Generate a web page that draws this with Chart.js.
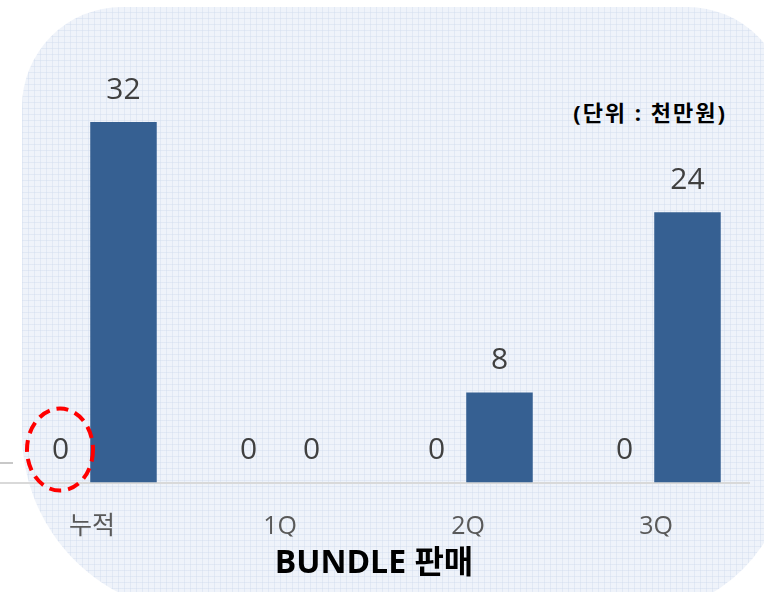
<!DOCTYPE html>
<html>
<head>
<meta charset="utf-8">
<script src="https://cdn.jsdelivr.net/npm/chart.js@4"></script>
<style>
  html, body { margin: 0; padding: 0; background: #ffffff; overflow: hidden; }
  body { width: 764px; height: 592px; position: relative; }
  .panel {
    position: absolute; left: 22px; top: 7px; width: 765px; height: 606px;
    border-radius: 100px 100px 150px 180px;
    background-color: #eff3fa;
    background-image:
      repeating-linear-gradient(0deg, rgba(205,217,236,0.4) 0px, rgba(205,217,236,0.4) 1px, transparent 1px, transparent 6px),
      repeating-linear-gradient(90deg, rgba(205,217,236,0.4) 0px, rgba(205,217,236,0.4) 1px, transparent 1px, transparent 6px);
  }
  .stub { position: absolute; left: 0; top: 462px; width: 13px; height: 2px; background: #c8c8c8; }
  .wrap { position: absolute; left: -2px; top: 0; width: 752px; height: 592px; }
  .unit {
    position: absolute; right: 37px; top: 95px;
    font: bold 22px "Open Sans", "Noto Sans CJK KR", sans-serif;
    letter-spacing: 2px; color: #000000;
  }
</style>
</head>
<body>
<div class="panel"></div>
<div class="stub"></div>
<div class="unit">(단위 : 천만원)</div>
<div class="wrap"><canvas id="bundleChart"></canvas></div>
<script>
// chart data
const categories = ['누적', '1Q', '2Q', '3Q'];
const planValues = [0, 0, 0, 0];
const salesValues = [32, 0, 8, 24];
const chartTitle = 'BUNDLE 판매';

const FONT = '"Open Sans", "Noto Sans CJK KR", sans-serif';

// numbers above each bar, placed from the bar elements
const valueLabels = {
  id: 'valueLabels',
  afterDatasetsDraw(chart) {
    const ctx = chart.ctx;
    ctx.save();
    ctx.font = '30px ' + FONT;
    ctx.fillStyle = '#404040';
    ctx.textAlign = 'center';
    ctx.textBaseline = 'middle';
    chart.data.datasets.forEach((ds, i) => {
      chart.getDatasetMeta(i).data.forEach((bar, j) => {
        ctx.fillText(String(ds.data[j]), bar.x, bar.y - 32);
      });
    });
    ctx.restore();
  }
};

// red dashed ring round the first zero
const dashedRing = {
  id: 'dashedRing',
  afterDraw(chart) {
    const bar = chart.getDatasetMeta(0).data[0];
    if (!bar) return;
    const ctx = chart.ctx;
    ctx.save();
    ctx.strokeStyle = '#ff0000';
    ctx.lineWidth = 4;
    ctx.setLineDash([12, 7]);
    ctx.beginPath();
    ctx.ellipse(bar.x - 0.5, bar.y - 33, 33, 41, 0, 0, Math.PI * 2);
    ctx.stroke();
    ctx.restore();
  }
};

new Chart(document.getElementById('bundleChart'), {
  type: 'bar',
  data: {
    labels: categories,
    datasets: [
      {
        label: 'plan',
        data: planValues,
        backgroundColor: '#366092',
        borderWidth: 0,
        categoryPercentage: 0.67,
        barPercentage: 1.056
      },
      {
        label: 'sales',
        data: salesValues,
        backgroundColor: '#366092',
        borderWidth: 0,
        categoryPercentage: 0.67,
        barPercentage: 1.056
      }
    ]
  },
  options: {
    responsive: true,
    maintainAspectRatio: false,
    animation: false,
    layout: { padding: { top: 32, left: 0, right: 0, bottom: 0 } },
    plugins: {
      legend: { display: false },
      tooltip: { enabled: false },
      title: {
        display: true,
        position: 'bottom',
        text: chartTitle,
        color: '#000000',
        font: { family: FONT, size: 32, weight: 'bold', lineHeight: 1.2 },
        padding: { top: 8, bottom: 9 }
      }
    },
    scales: {
      x: {
        grid: { display: false, drawTicks: false },
        border: { display: true, color: '#d9d9d9', width: 2 },
        ticks: {
          color: '#595959',
          padding: 29,
          font: { family: FONT, size: 25, lineHeight: 1.2 }
        },
        afterFit(scale) {
          scale.height = 54;
        }
      },
      y: {
        display: false,
        min: 0,
        max: 40
      }
    }
  },
  plugins: [valueLabels, dashedRing]
});
</script>
</body>
</html>
